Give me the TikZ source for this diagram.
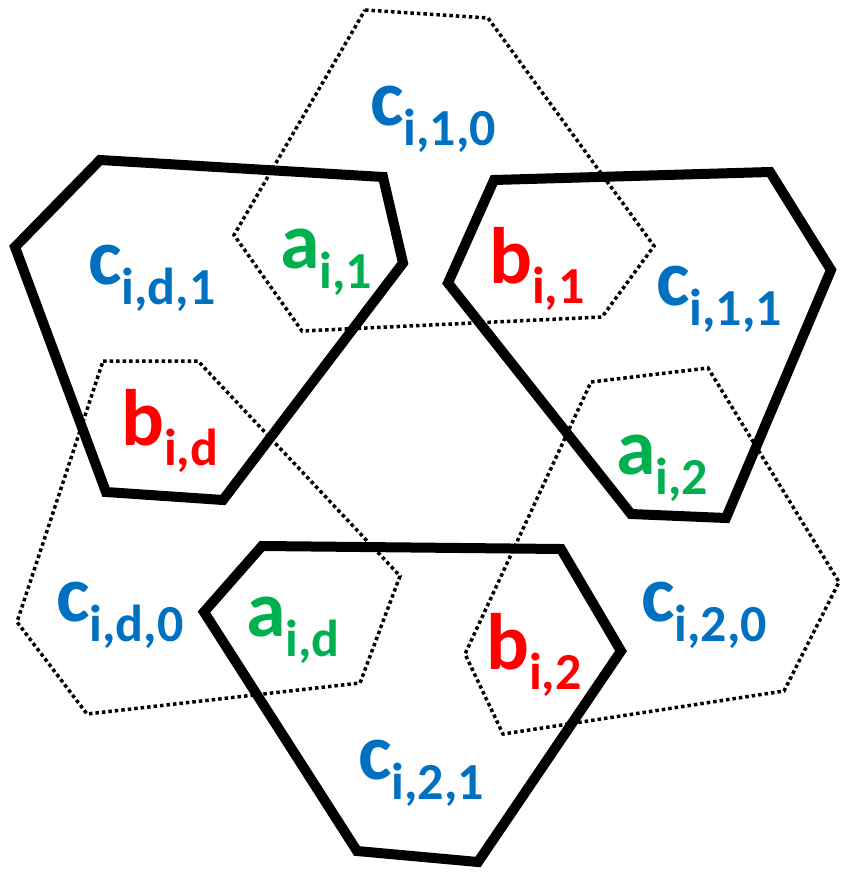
\documentclass[tikz,border=0pt]{standalone}
\usepackage{fontspec}
\setmainfont{Carlito}
\usepackage{tikz}
\definecolor{cblue}{HTML}{0070C0}
\definecolor{agreen}{HTML}{00B050}
\definecolor{bred}{HTML}{FF0000}
% letter with lowered index
\newcommand{\idx}[2]{#1\raisebox{-20pt}{\fontsize{52}{52}\selectfont #2}}

\begin{document}
\begin{tikzpicture}[
  x=1pt, y=-1pt,
  cell/.style={draw, line width=10pt, line join=miter},
  ring/.style={draw, line width=3.5pt, dash pattern=on 3.5pt off 3pt},
  lab/.style={anchor=base west, inner sep=0pt, font=\bfseries\fontsize{80}{80}\selectfont},
  labc/.style={lab, text=cblue},
  laba/.style={lab, text=agreen},
  labb/.style={lab, text=bred},
]
\useasboundingbox (0,0) rectangle (842,872);

% dotted rings
\draw[ring] (365,10) -- (488,18) -- (654,246) -- (602,317) -- (302,331) -- (234,235) -- cycle;
\draw[ring] (591,382) -- (708,368) -- (839,582) -- (784,691) -- (503,734) -- (465,654) -- cycle;
\draw[ring] (103,361) -- (198,361) -- (400,576) -- (360,683) -- (87,714) -- (17,622) -- cycle;

% solid cells
\draw[cell] (100,160) -- (383,177) -- (403,263) -- (223,500) -- (106,492) -- (15,247) -- cycle;
\draw[cell] (494,180) -- (770,172) -- (831,270) -- (726,518) -- (631,514) -- (448,283) -- cycle;
\draw[cell] (262,546) -- (561,549) -- (621,651) -- (478,862) -- (357,851) -- (204,612) -- cycle;

% labels
\node[labc] (c10) at (370,125) {\idx{c}{i,1,0}};
\node[labc] (cd1) at (88,284) {\idx{c}{i,d,1}};
\node[laba] (a1) at (280,268) {\idx{a}{i,1}};
\node[labb] (b1) at (489,283) {\idx{b}{i,1}};
\node[labc] (c11) at (656,305) {\idx{c}{i,1,1}};
\node[labb] (bd) at (121,445) {\idx{b}{i,d}};
\node[laba] (a2) at (616,474) {\idx{a}{i,2}};
\node[labc] (cd0) at (56,621) {\idx{c}{i,d,0}};
\node[laba] (ad) at (246,636) {\idx{a}{i,d}};
\node[labb] (b2) at (486,669) {\idx{b}{i,2}};
\node[labc] (c20) at (641,621) {\idx{c}{i,2,0}};
\node[labc] (c21) at (358,779) {\idx{c}{i,2,1}};
\end{tikzpicture}
\end{document}
